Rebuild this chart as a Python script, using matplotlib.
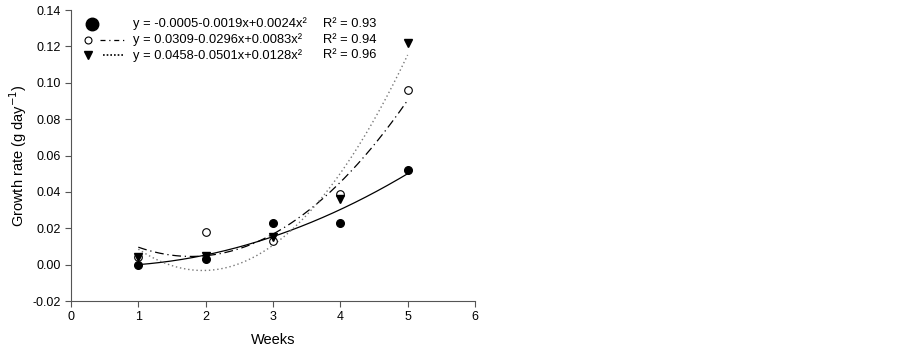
import numpy as np
import matplotlib.pyplot as plt

plt.rcParams['font.family'] = ['Liberation Sans', 'DejaVu Sans']

weeks = [1, 2, 3, 4, 5]
rate_a = [0.000, 0.003, 0.023, 0.023, 0.052]   # filled circles
rate_b = [0.004, 0.018, 0.013, 0.039, 0.096]   # open circles
rate_c = [0.004, 0.005, 0.015, 0.036, 0.122]   # triangles

# quadratic fits as printed on the chart (c0, c1, c2)
coef_a = [-0.0005, -0.0019, 0.0024]
coef_b = [0.0309, -0.0296, 0.0083]
coef_c = [0.0458, -0.0501, 0.0128]
eq_a = 'y = -0.0005-0.0019x+0.0024x²'
eq_b = 'y = 0.0309-0.0296x+0.0083x²'
eq_c = 'y = 0.0458-0.0501x+0.0128x²'
r2_a, r2_b, r2_c = 'R² = 0.93', 'R² = 0.94', 'R² = 0.96'

fig = plt.figure(figsize=(9.03, 3.49), dpi=100)
ax = fig.add_axes([0.0786, 0.1375, 0.4474, 0.8338])

xs = np.linspace(weeks[0], weeks[-1], 200)
def quad(c, x):
    return c[0] + c[1] * x + c[2] * x ** 2

ax.plot(xs, quad(coef_a, xs), color='black', lw=0.9)
ax.plot(xs, quad(coef_b, xs), color='black', lw=0.9, dashes=(7, 3, 1, 3))
ax.plot(xs, quad(coef_c, xs), color='#777777', lw=1.0, dashes=(1, 2))

ax.plot(weeks, rate_a, 'o', color='black', ms=5.5, zorder=3)
ax.plot(weeks, rate_b, 'o', mfc='white', mec='black', mew=0.8, ms=5.5, zorder=3)
ax.plot(weeks, rate_c, 'v', color='black', ms=6, zorder=4)

# legend drawn by hand
tr = ax.transAxes
ax.plot([0.052], [0.952], 'o', color='black', ms=9, transform=tr, clip_on=False)
ax.plot([0.042], [0.897], 'o', mfc='white', mec='black', mew=0.8, ms=5, transform=tr)
ax.plot([0.072, 0.134], [0.897, 0.897], color='black', lw=0.9, dashes=(4, 3, 1, 3), transform=tr)
ax.plot([0.042], [0.845], 'v', color='black', ms=5.5, transform=tr)
ax.plot([0.080, 0.134], [0.845, 0.845], color='black', lw=1.2, dashes=(1, 1.2), transform=tr)
for yy, eq, r2 in [(0.952, eq_a, r2_a), (0.897, eq_b, r2_b), (0.845, eq_c, r2_c)]:
    ax.text(0.153, yy, eq, transform=tr, fontsize=9.3, va='center')
    ax.text(0.624, yy, r2, transform=tr, fontsize=9.3, va='center')

ax.set_xlim(0, 6)
ax.set_ylim(-0.02, 0.14)
ax.set_xticks(range(0, 7))
ax.set_yticks(np.arange(-0.02, 0.141, 0.02))
ax.yaxis.set_major_formatter(plt.FuncFormatter(lambda v, p: f'{v:.2f}'))
for s in ['top', 'right']:
    ax.spines[s].set_visible(False)
for s in ['left', 'bottom']:
    ax.spines[s].set_color('#555555')
ax.tick_params(direction='out', length=4, width=0.8, color='#555555', labelsize=9)
ax.set_xlabel('Weeks', fontsize=10.5, labelpad=7)
ax.set_ylabel('Growth rate (g day$^{-1}$)', fontsize=10.5, labelpad=2)

fig.savefig('out.png', dpi=100)
